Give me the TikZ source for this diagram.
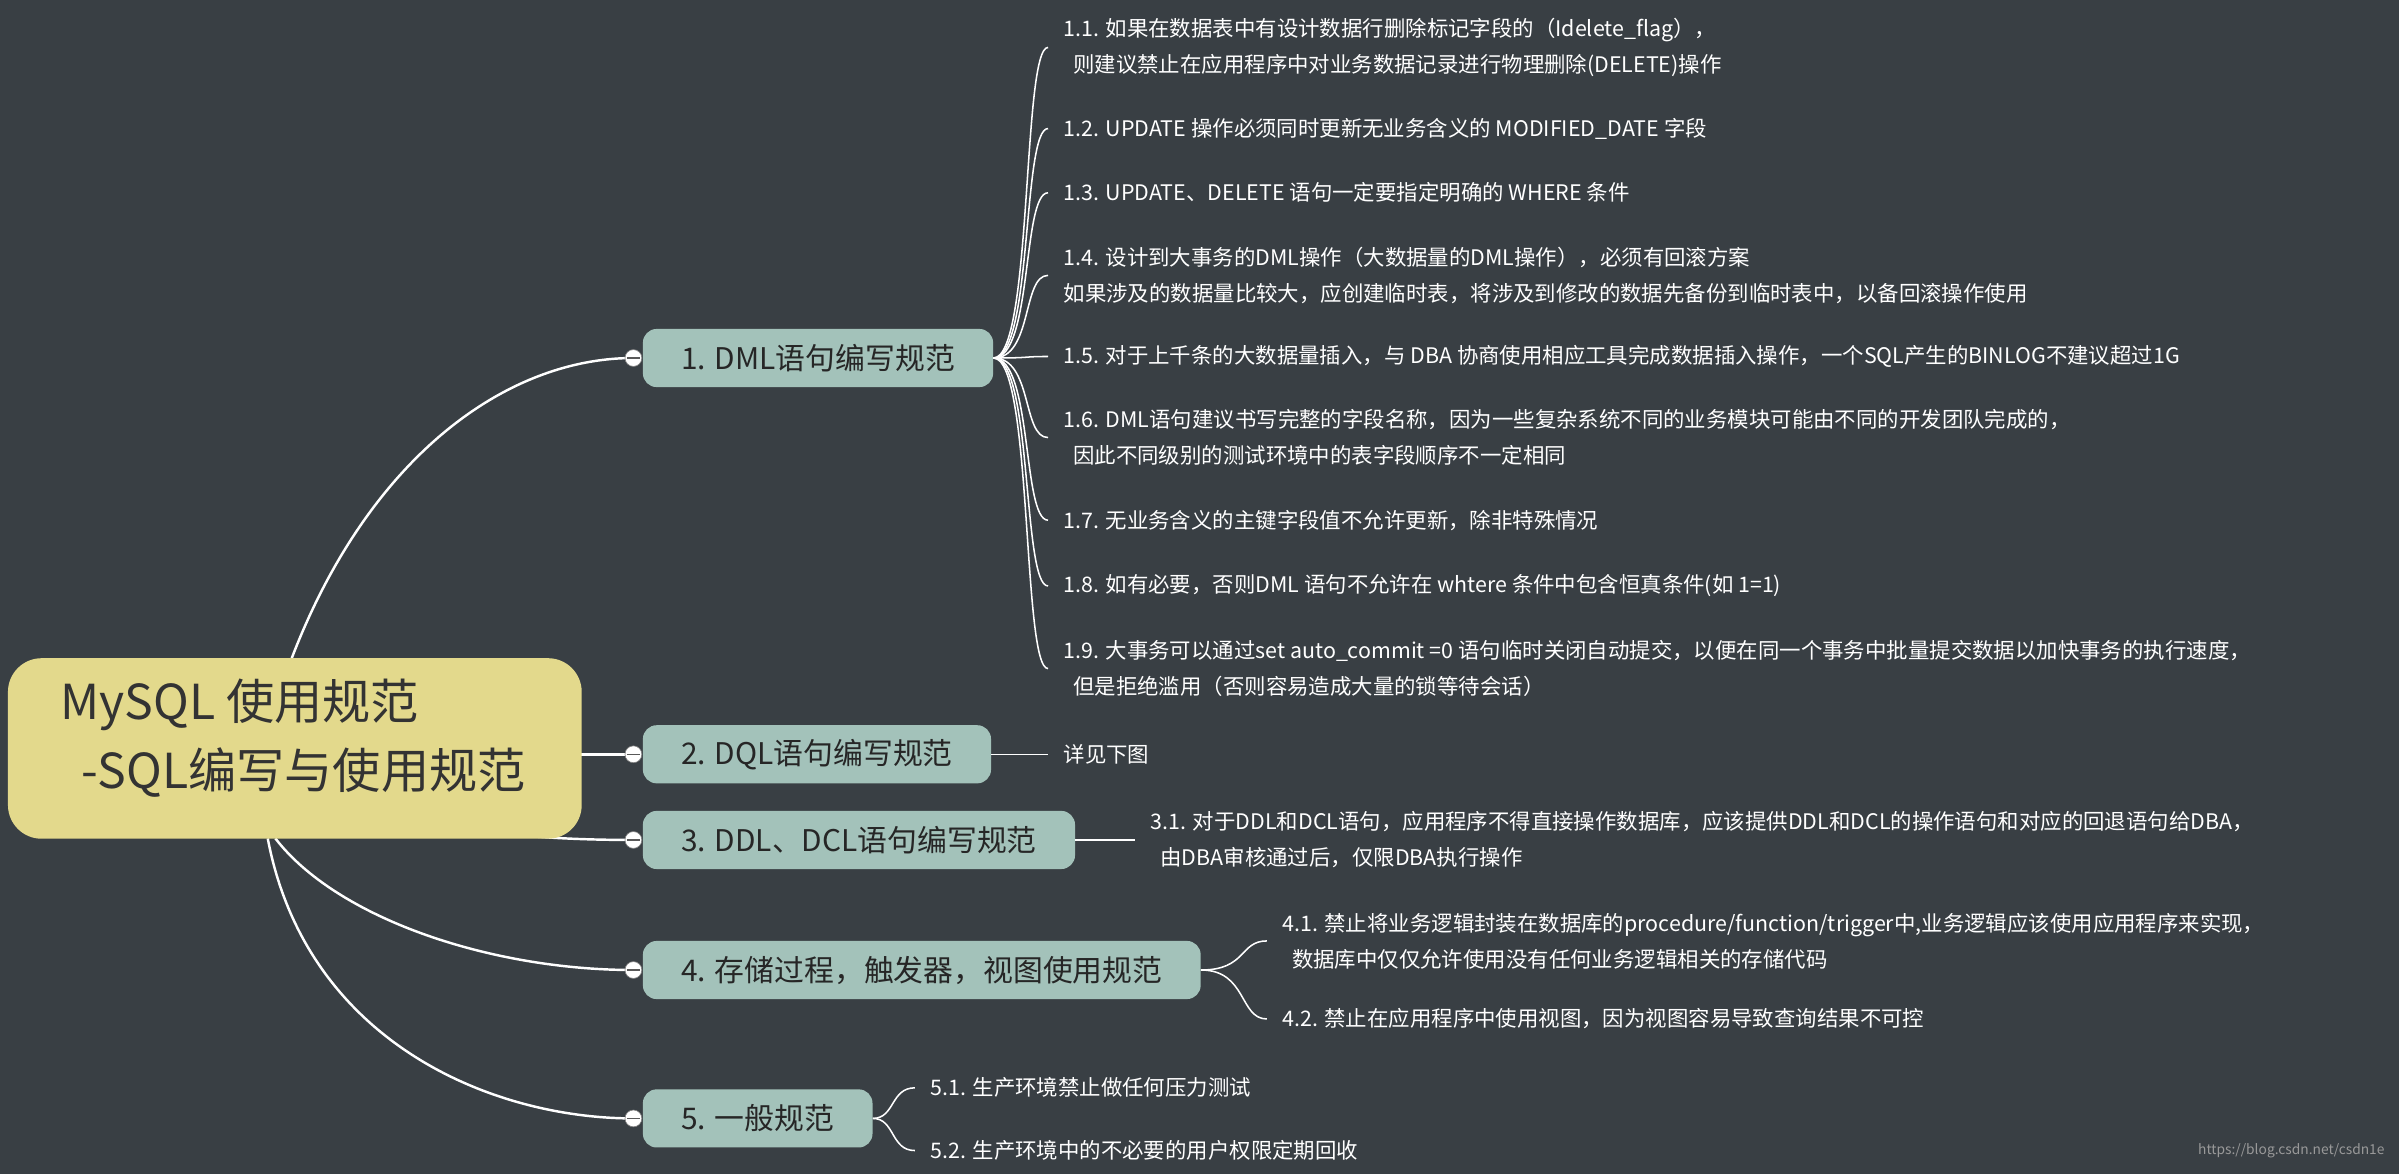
\documentclass[tikz,border=0pt]{standalone}
\usepackage{fontspec}
\setmainfont{Noto Sans CJK SC}
\begin{document}
\begin{tikzpicture}[x=1pt,y=-1pt,
  line/.style={white,line width=1.6pt},
  leafline/.style={white,line width=1pt},
  br/.style={fill=brc,rounded corners=9pt,minimum height=38pt,anchor=west,text=black!85,font=\fontsize{19.5}{20}\selectfont,inner xsep=25pt},
  leaf/.style={anchor=west,align=left,text=white,font=\fontsize{14}{23.5}\selectfont,inner sep=0pt},
  col/.style={circle,fill=white,draw=gray,minimum size=11pt,inner sep=0pt}]
\definecolor{bg}{HTML}{393F44}
\definecolor{brc}{HTML}{A3C2BA}
\definecolor{rootc}{HTML}{E3D98C}
\fill[bg] (0,0) rectangle (1568,767);
\useasboundingbox (0,0) rectangle (1568,767);
% root curves
\draw[line] (190,432) .. controls (240,300) and (330,234) .. (414,234);
\draw[line] (330,493) -- (414,493);
\draw[line] (260,530) .. controls (300,545) and (360,549) .. (414,549);
\draw[line] (180,548) .. controls (220,600) and (320,634) .. (414,634);
\draw[line] (175,548) .. controls (200,680) and (320,731) .. (414,731);
\node[fill=rootc,rounded corners=22pt,minimum width=375pt,minimum height=118pt,anchor=north west] (root) at (5,430) {};
\node[anchor=west,text=black!80,font=\fontsize{31.5}{34}\selectfont] (rt1) at (36,461) {MySQL 使用规范};
\node[anchor=west,text=black!80,font=\fontsize{31.5}{34}\selectfont] (rt2) at (50,505) {-SQL编写与使用规范};
% branches
\node[br] (b1) at (420,234) {1. DML语句编写规范};
\node[br] (b2) at (420,493) {2. DQL语句编写规范};
\node[br] (b3) at (420,549) {3. DDL、DCL语句编写规范};
\node[br] (b4) at (420,634) {4. 存储过程，触发器，视图使用规范};
\node[br] (b5) at (420,731) {5. 一般规范};
\foreach \y in {234,493,549,634,731}{
  \node[col] at (414,\y) {};
  \draw[gray!70!black,line width=1pt] (410,\y) -- (418,\y);
}
% leaves b1
\foreach \n/\y in {a/31,b/84,c/126,d/180,e/233,f/286,g/340,h/383,i/437}{
  \coordinate (p\n) at (685,\y);
  \draw[leafline] (b1.east) .. controls (675,234) and (668,\y) .. (p\n);
}
\node[leaf] (l11) at (695,31) {1.1. 如果在数据表中有设计数据行删除标记字段的（Idelete\_flag），\\\ \ 则建议禁止在应用程序中对业务数据记录进行物理删除(DELETE)操作};
\node[leaf] (l12) at (695,84) {1.2. UPDATE 操作必须同时更新无业务含义的 MODIFIED\_DATE 字段};
\node[leaf] (l13) at (695,126) {1.3. UPDATE、DELETE 语句一定要指定明确的 WHERE 条件};
\node[leaf] (l14) at (695,180) {1.4. 设计到大事务的DML操作（大数据量的DML操作），必须有回滚方案\\如果涉及的数据量比较大，应创建临时表，将涉及到修改的数据先备份到临时表中，以备回滚操作使用};
\node[leaf] (l15) at (695,233) {1.5. 对于上千条的大数据量插入，与 DBA 协商使用相应工具完成数据插入操作，一个SQL产生的BINLOG不建议超过1G};
\node[leaf] (l16) at (695,286) {1.6. DML语句建议书写完整的字段名称，因为一些复杂系统不同的业务模块可能由不同的开发团队完成的，\\\ \ 因此不同级别的测试环境中的表字段顺序不一定相同};
\node[leaf] (l17) at (695,340) {1.7. 无业务含义的主键字段值不允许更新，除非特殊情况};
\node[leaf] (l18) at (695,383) {1.8. 如有必要，否则DML 语句不允许在 whtere 条件中包含恒真条件(如 1=1)};
\node[leaf] (l19) at (695,437) {1.9. 大事务可以通过set auto\_commit =0 语句临时关闭自动提交，以便在同一个事务中批量提交数据以加快事务的执行速度，\\\ \ 但是拒绝滥用（否则容易造成大量的锁等待会话）};
% b2
\draw[leafline] (b2.east) -- (685,493);
\node[leaf] (l21) at (695,493) {详见下图};
% b3
\draw[leafline] (b3.east) -- (742,549);
\node[leaf] (l31) at (752,549) {3.1. 对于DDL和DCL语句，应用程序不得直接操作数据库，应该提供DDL和DCL的操作语句和对应的回退语句给DBA，\\\ \ 由DBA审核通过后，仅限DBA执行操作};
% b4
\draw[leafline] (b4.east) .. controls (815,634) and (810,615) .. (828,615);
\draw[leafline] (b4.east) .. controls (815,634) and (810,666) .. (828,666);
\node[leaf] (l41) at (838,615) {4.1. 禁止将业务逻辑封装在数据库的procedure/function/trigger中,业务逻辑应该使用应用程序来实现，\\\ \ 数据库中仅仅允许使用没有任何业务逻辑相关的存储代码};
\node[leaf] (l42) at (838,666) {4.2. 禁止在应用程序中使用视图，因为视图容易导致查询结果不可控};
% b5
\draw[leafline] (b5.east) .. controls (585,731) and (582,711) .. (598,711);
\draw[leafline] (b5.east) .. controls (585,731) and (582,752) .. (598,752);
\node[leaf] (l51) at (608,711) {5.1. 生产环境禁止做任何压力测试};
\node[leaf] (l52) at (608,752) {5.2. 生产环境中的不必要的用户权限定期回收};
\node[anchor=east,text=gray!80,font=\fontsize{9}{10}\selectfont] (wm) at (1562,752) {https://blog.csdn.net/csdn1e};
\end{tikzpicture}
\end{document}
